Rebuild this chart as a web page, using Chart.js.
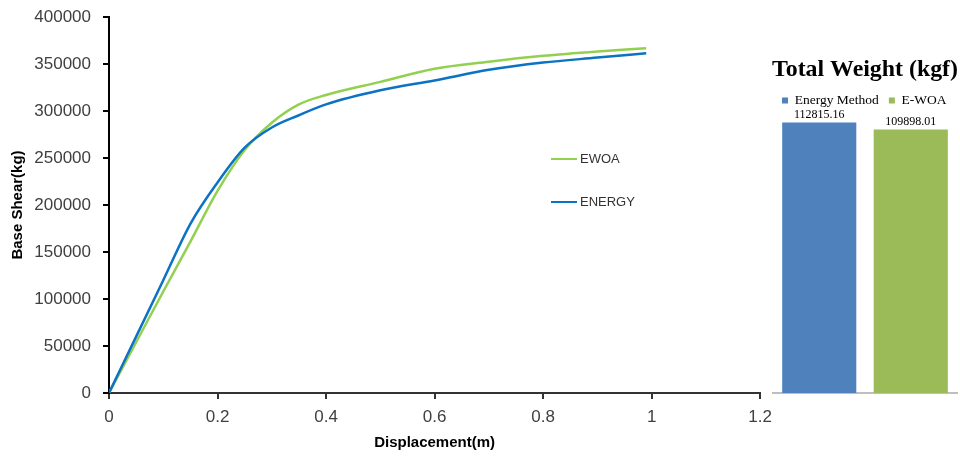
<!DOCTYPE html>
<html>
<head>
<meta charset="utf-8">
<script src="https://cdn.jsdelivr.net/npm/chart.js@4.4.0/dist/chart.umd.min.js"></script>
<style>
  body { margin: 0; background: #fff; }
  #wrap { position: relative; width: 960px; height: 456px; }
  #curve { position: absolute; left: 0; top: 0; }
  #weight { position: absolute; left: 772px; top: 0; }
</style>
</head>
<body>
<div id="wrap">
  <canvas id="curve" width="780" height="456"></canvas>
  <canvas id="weight" width="186" height="456"></canvas>
</div>
<script>
// pushover curve
const displacement = [0, 0.05, 0.1, 0.15, 0.2, 0.25, 0.3, 0.35, 0.4, 0.5, 0.6, 0.7, 0.8, 0.9, 0.99];
const ewoaShear   = [0, 54000, 108000, 161000, 215000, 258500, 287500, 307000, 317000, 331000, 345000, 352500, 358700, 363300, 366700];
const energyShear = [0, 60000, 120000, 180000, 224000, 261000, 282500, 295500, 307000, 322000, 332500, 343800, 351500, 356800, 361500];

// total weight bars
const weightLabels = ['Energy Method', 'E-WOA'];
const weightValues = [112815.16, 109898.01];

const GREEN = '#92D050';
const BLUE = '#0B72C4';

function toPoints(xs, ys) {
    return xs.map((x, i) => ({x: x, y: ys[i]}));
}

// small legend inside the plot, lines with names
const curveLegend = {
    id: 'curveLegend',
    afterDraw(chart) {
        const ctx = chart.ctx;
        const rows = [
            {ds: 0, y: 159},
            {ds: 1, y: 202}
        ];
        ctx.save();
        ctx.font = '13px "Liberation Sans"';
        ctx.textBaseline = 'middle';
        rows.forEach(r => {
            const ds = chart.data.datasets[r.ds];
            ctx.strokeStyle = ds.borderColor;
            ctx.lineWidth = 2;
            ctx.beginPath();
            ctx.moveTo(551, r.y);
            ctx.lineTo(577, r.y);
            ctx.stroke();
            ctx.fillStyle = '#333';
            ctx.fillText(ds.label, 580, r.y);
        });
        ctx.restore();
    }
};

new Chart(document.getElementById('curve'), {
    type: 'line',
    data: {
        datasets: [
            {
                label: 'EWOA',
                data: toPoints(displacement, ewoaShear),
                borderColor: GREEN,
                borderWidth: 2.5,
                pointRadius: 0,
                cubicInterpolationMode: 'monotone',
                order: 1
            },
            {
                label: 'ENERGY',
                data: toPoints(displacement, energyShear),
                borderColor: BLUE,
                borderWidth: 2.5,
                pointRadius: 0,
                cubicInterpolationMode: 'monotone',
                order: 0
            }
        ]
    },
    options: {
        responsive: false,
        animation: false,
        devicePixelRatio: 1,
        layout: { padding: { top: 17, right: 0, left: 0, bottom: 0 } },
        plugins: {
            legend: { display: false },
            tooltip: { enabled: false }
        },
        scales: {
            x: {
                type: 'linear',
                min: 0,
                max: 1.2,
                ticks: {
                    stepSize: 0.2,
                    padding: 8,
                    color: '#404040',
                    font: { family: 'Liberation Sans', size: 17 },
                    callback: v => String(+v.toFixed(1))
                },
                grid: { drawOnChartArea: false, tickLength: 6, color: '#333', lineWidth: 2 },
                border: { color: '#333', width: 2 },
                title: {
                    display: true,
                    text: 'Displacement(m)',
                    color: '#000',
                    font: { family: 'Liberation Sans', size: 15, weight: 'bold' },
                    padding: { top: 0, bottom: 4 }
                },
                afterFit: s => { s.height = 63; }
            },
            y: {
                min: 0,
                max: 400000,
                ticks: {
                    stepSize: 50000,
                    padding: 12,
                    color: '#404040',
                    font: { family: 'Liberation Sans', size: 17 },
                    callback: v => String(v)
                },
                grid: { drawOnChartArea: false, tickLength: 6, color: '#000', lineWidth: 2 },
                border: { color: '#000', width: 2 },
                title: {
                    display: true,
                    text: 'Base Shear(kg)',
                    color: '#000',
                    font: { family: 'Liberation Sans', size: 15, weight: 'bold' },
                    padding: { top: 9, bottom: 0 }
                },
                afterFit: s => { s.width = 109; s.paddingTop = 0; }
            }
        }
    },
    plugins: [curveLegend]
});

// value above each bar
const barValues = {
    id: 'barValues',
    afterDatasetsDraw(chart) {
        const ctx = chart.ctx;
        ctx.save();
        ctx.font = '12px "Liberation Serif"';
        ctx.fillStyle = '#000';
        ctx.textAlign = 'center';
        ctx.textBaseline = 'bottom';
        chart.data.datasets.forEach((ds, i) => {
            const bar = chart.getDatasetMeta(i).data[0];
            ctx.fillText(ds.data[0].toFixed(2), bar.x, bar.y - 2);
        });
        ctx.restore();
    }
};

new Chart(document.getElementById('weight'), {
    type: 'bar',
    data: {
        labels: [''],
        datasets: [
            { label: weightLabels[0], data: [weightValues[0]], backgroundColor: '#4F81BD' },
            { label: weightLabels[1], data: [weightValues[1]], backgroundColor: '#9BBB59' }
        ]
    },
    options: {
        responsive: false,
        animation: false,
        devicePixelRatio: 1,
        layout: { padding: { top: 0, right: 0, left: 0, bottom: 63 } },
        datasets: { bar: { categoryPercentage: 0.984, barPercentage: 0.81 } },
        plugins: {
            tooltip: { enabled: false },
            title: {
                display: true,
                text: 'Total Weight (kgf)',
                color: '#000',
                font: { family: 'Liberation Serif', size: 24, weight: 'bold' },
                padding: { top: 55, bottom: 0 }
            },
            legend: {
                display: true,
                align: 'start',
                labels: {
                    boxWidth: 6,
                    boxHeight: 6,
                    padding: 10,
                    color: '#000',
                    font: { family: 'Liberation Serif', size: 13.5 }
                }
            }
        },
        scales: {
            x: {
                ticks: { display: false },
                grid: { display: false },
                border: { color: '#BFBFBF', width: 2 },
                afterFit: s => { s.height = 0; }
            },
            y: {
                display: false,
                min: 0,
                max: 115000
            }
        }
    },
    plugins: [barValues]
});
</script>
</body>
</html>
